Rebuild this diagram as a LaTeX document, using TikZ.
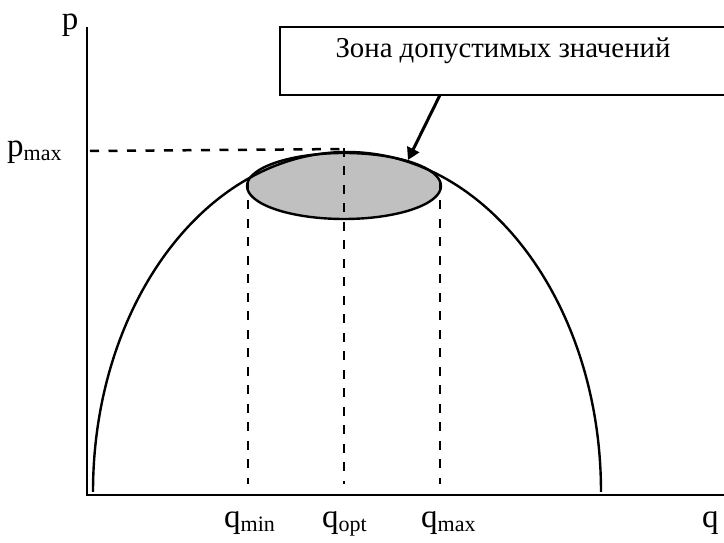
\documentclass[tikz,border=0pt]{standalone}
\usepackage{fontspec}
\setmainfont{Liberation Serif}
\usetikzlibrary{arrows.meta}
\definecolor{zonegray}{RGB}{192,192,192}
\tikzset{
  axisline/.style={line width=2.6pt},
  curveline/.style={line width=2.4pt},
  guide/.style={line width=2.5pt, dash pattern=on 9pt off 9.5pt},
  lbl/.style={inner sep=0pt, anchor=base west, font=\fontsize{33}{33}\selectfont},
  callout/.style={draw, line width=2pt, rectangle, inner sep=0pt},
  pointer/.style={line width=3pt, -{Triangle[length=12pt,width=13pt]}}
}
\newcommand{\subs}[1]{\raisebox{-4pt}{\fontsize{22}{22}\selectfont #1}}
\begin{document}
\begin{tikzpicture}[x=1pt,y=1pt]
\useasboundingbox (0,0) rectangle (724,543);
% zone ellipse fill
\fill[zonegray] (344,357) ellipse [x radius=97, y radius=33];
% guides
\draw[guide] (90,392) -- (348,394);
\draw[guide] (248,361) -- (248,59);
\draw[guide] (344,395) -- (344,59);
\draw[guide] (440,361) -- (440,59);
% curve
\draw[curveline] (93,51) arc [start angle=180, end angle=0, x radius=254, y radius=340];
% ellipse outline
\draw[curveline] (344,357) ellipse [x radius=97, y radius=33];
% axes
\coordinate (origin) at (87,48);
\coordinate (ytop) at (87,516);
\coordinate (xend) at (724,48);
\draw[axisline] (ytop) -- (origin) -- (xend);
% labels
\node[lbl, anchor=base] (plabel) at (70,513) {p};
\node[lbl] (pmax) at (7,386) {p\subs{max}};
\node[lbl] (qmin) at (224,15) {q\subs{min}};
\node[lbl] (qopt) at (322,15) {q\subs{opt}};
\node[lbl] (qmax) at (421,15) {q\subs{max}};
\node[lbl] (qlabel) at (702,15) {q};
% callout box
\node[callout, minimum width=455pt, minimum height=68pt, anchor=south west] (box) at (279,447) {};
\node[inner sep=0pt, anchor=base, font=\fontsize{28.8}{29}\selectfont] (boxtext) at (503,485) {Зона допустимых значений};
\coordinate (a0) at (440,448);
\coordinate (a1) at (408,383);
\draw[pointer] (a0) -- (a1);
\end{tikzpicture}
\end{document}
